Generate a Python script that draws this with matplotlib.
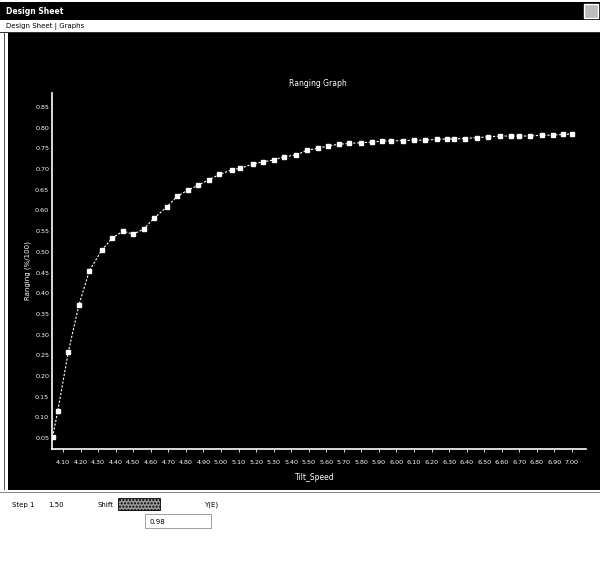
import numpy as np
import matplotlib
matplotlib.use('Agg')
import matplotlib.pyplot as plt
from matplotlib.patches import Rectangle

# Ranging graph values
tilt_speed = [4.04, 4.07, 4.13, 4.19, 4.25, 4.32, 4.38, 4.44, 4.50, 4.56,
              4.62, 4.69, 4.75, 4.81, 4.87, 4.93, 4.99, 5.06, 5.11, 5.18,
              5.24, 5.30, 5.36, 5.43, 5.49, 5.55, 5.61, 5.67, 5.73, 5.80,
              5.86, 5.92, 5.97, 6.04, 6.10, 6.16, 6.23, 6.29, 6.33, 6.39,
              6.46, 6.52, 6.59, 6.65, 6.70, 6.76, 6.83, 6.89, 6.95, 7.00]
ranging = [0.052, 0.115, 0.258, 0.371, 0.454, 0.504, 0.533, 0.550, 0.543, 0.555,
           0.582, 0.608, 0.634, 0.649, 0.661, 0.674, 0.687, 0.698, 0.702, 0.712,
           0.718, 0.722, 0.730, 0.734, 0.746, 0.750, 0.756, 0.760, 0.762, 0.764,
           0.765, 0.768, 0.768, 0.769, 0.770, 0.770, 0.772, 0.773, 0.773, 0.774,
           0.776, 0.778, 0.780, 0.780, 0.780, 0.780, 0.782, 0.782, 0.784, 0.785]

x_ticks = [4.10, 4.20, 4.30, 4.40, 4.50, 4.60, 4.70, 4.80, 4.90, 5.00,
           5.10, 5.20, 5.30, 5.40, 5.50, 5.60, 5.70, 5.80, 5.90, 6.00,
           6.10, 6.20, 6.30, 6.40, 6.50, 6.60, 6.70, 6.80, 6.90, 7.00]
y_ticks = [0.05, 0.10, 0.15, 0.20, 0.25, 0.30, 0.35, 0.40, 0.45,
           0.50, 0.55, 0.60, 0.65, 0.70, 0.75, 0.80, 0.85]

W, H = 600, 562


def fx(px):
    return px / W


def fy(py):
    return 1 - py / H


fig = plt.figure(figsize=(6.0, 5.62), dpi=100, facecolor='white')

# window chrome: title bar, tab row, black chart panel
fig.patches.append(Rectangle((0, fy(20)), 1, fy(2) - fy(20), transform=fig.transFigure,
                             facecolor='black', edgecolor='none', zorder=0))
fig.patches.append(Rectangle((fx(8), fy(490)), 1 - fx(8), fy(33) - fy(490),
                             transform=fig.transFigure, facecolor='black',
                             edgecolor='none', zorder=0))
fig.patches.append(Rectangle((fx(4), fy(490)), 0.001, fy(33) - fy(490),
                             transform=fig.transFigure, facecolor='#555555',
                             edgecolor='none', zorder=0))
fig.patches.append(Rectangle((0, fy(33)), 1, 0.002, transform=fig.transFigure,
                             facecolor='#333333', edgecolor='none', zorder=0))
fig.patches.append(Rectangle((0, fy(493)), 1, 0.002, transform=fig.transFigure,
                             facecolor='#888888', edgecolor='none', zorder=0))

fig.text(fx(6), fy(11), 'Design Sheet', color='white', fontsize=5.5,
         fontweight='bold', va='center', ha='left')
fig.patches.append(Rectangle((fx(584), fy(18)), fx(14), fy(4) - fy(18),
                             transform=fig.transFigure, facecolor='#bbbbbb',
                             edgecolor='white', zorder=1))
fig.text(fx(6), fy(26), 'Design Sheet | Graphs', color='black', fontsize=5,
         va='center', ha='left')

# bottom control panel
fig.text(fx(12), fy(505), 'Step 1', color='black', fontsize=5, va='center')
fig.text(fx(48), fy(505), '1.50', color='black', fontsize=5, va='center')
fig.text(fx(98), fy(505), 'Shift', color='black', fontsize=5, va='center')
fig.patches.append(Rectangle((fx(118), fy(510)), fx(42), fy(498) - fy(510),
                             transform=fig.transFigure, facecolor='#999999',
                             edgecolor='black', hatch='.....', linewidth=0.6, zorder=1))
fig.text(fx(204), fy(505), 'Y(E)', color='black', fontsize=5, va='center')
fig.text(fx(150), fy(522), '0.98', color='black', fontsize=5, va='center')
fig.patches.append(Rectangle((fx(145), fy(528)), fx(66), fy(514) - fy(528),
                             transform=fig.transFigure, facecolor='none',
                             edgecolor='#777777', linewidth=0.5, zorder=1))

# chart
ax = fig.add_axes([fx(52), fy(449), fx(586) - fx(52), fy(93) - fy(449)], zorder=3)
ax.set_facecolor('black')
ax.plot(tilt_speed, ranging, color='white', linestyle=(0, (2, 1.5)), linewidth=0.8,
        marker='s', markersize=3, markerfacecolor='white', markeredgecolor='white')

ax.set_xlim(4.037, 7.08)
ax.set_ylim(0.0234, 0.884)
ax.set_xticks(x_ticks)
ax.set_xticklabels([f'{v:.2f}' for v in x_ticks])
ax.set_yticks(y_ticks)
ax.set_yticklabels([f'{v:.2f}' for v in y_ticks])
ax.tick_params(axis='x', colors='white', labelsize=4.6, length=2, width=0.6, pad=6)
ax.tick_params(axis='y', colors='white', labelsize=4.6, length=0, pad=2)

for side in ('top', 'right'):
    ax.spines[side].set_visible(False)
for side in ('left', 'bottom'):
    ax.spines[side].set_color('white')
    ax.spines[side].set_linewidth(1.2)

fig.text(fx(318), fy(83), 'Ranging Graph', color='white', fontsize=5.5,
         ha='center', va='center', zorder=4)
fig.text(fx(315), fy(478), 'Tilt_Speed', color='white', fontsize=5.5,
         ha='center', va='center', zorder=4)
fig.text(fx(28), fy(271), 'Ranging (%/100)', color='white', fontsize=5,
         rotation=90, ha='center', va='center', zorder=4)

plt.savefig('out.png', dpi=100, facecolor='white')
